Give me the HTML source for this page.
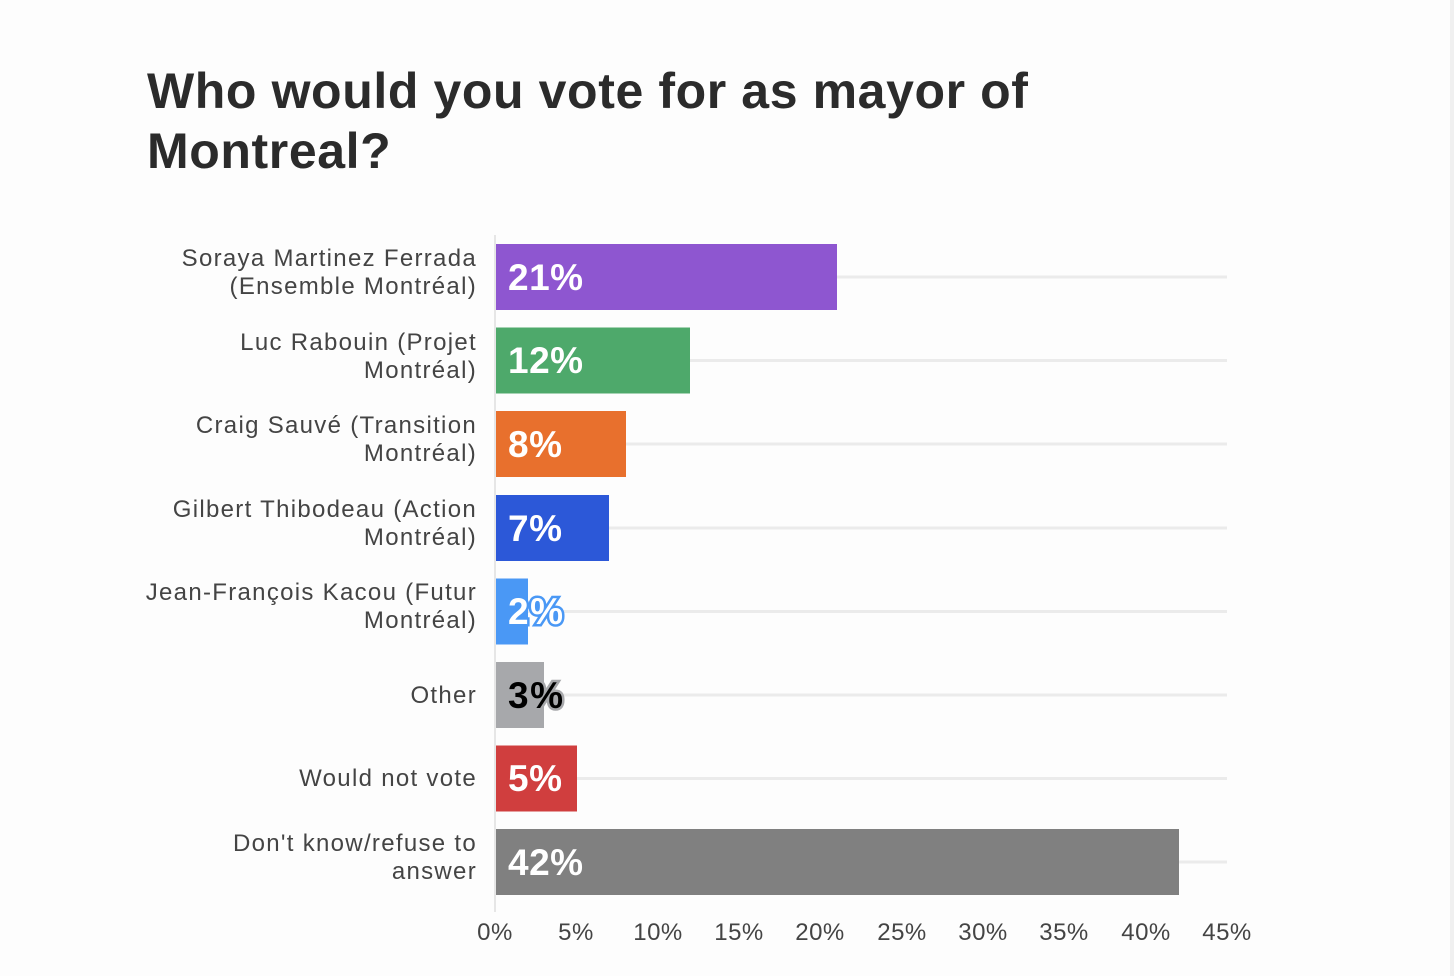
<!DOCTYPE html>
<html><head><style>
html,body{margin:0;padding:0;background:#fdfdfd;}
svg{display:block;font-family:"Liberation Sans",sans-serif;}
</style></head><body>
<svg width="1454" height="976" viewBox="0 0 1454 976">
<rect x="0" y="0" width="1454" height="976" fill="#fdfdfd"/>
<rect x="1450" y="0" width="4" height="976" fill="#f0f0f0"/>
<text x="147" y="108" font-size="50" font-weight="bold" fill="#2b2b2b" letter-spacing="0.6">Who would you vote for as mayor of</text>
<text x="147" y="168" font-size="50" font-weight="bold" fill="#2b2b2b" letter-spacing="0.6">Montreal?</text>
<g stroke="#ebebeb" stroke-width="3">
<line x1="495" x2="1227" y1="277" y2="277"/><line x1="495" x2="1227" y1="360.5" y2="360.5"/>
<line x1="495" x2="1227" y1="444" y2="444"/><line x1="495" x2="1227" y1="528" y2="528"/>
<line x1="495" x2="1227" y1="611.5" y2="611.5"/><line x1="495" x2="1227" y1="695" y2="695"/>
<line x1="495" x2="1227" y1="778.5" y2="778.5"/><line x1="495" x2="1227" y1="862" y2="862"/>
</g>
<line x1="495" x2="495" y1="235" y2="912" stroke="#e6e6e6" stroke-width="2"/>
<rect x="496" y="244" width="341" height="66" fill="#8e56d0"/>
<rect x="496" y="327.5" width="194" height="66" fill="#4ea96b"/>
<rect x="496" y="411" width="130" height="66" fill="#e8702d"/>
<rect x="496" y="495" width="113" height="66" fill="#2c58d8"/>
<rect x="496" y="578.5" width="32" height="66" fill="#4a98f5"/>
<rect x="496" y="662" width="48" height="66" fill="#a7a8ab"/>
<rect x="496" y="745.5" width="81" height="66" fill="#d03e3e"/>
<rect x="496" y="829" width="683" height="66" fill="#808080"/>
<g font-size="37" font-weight="bold" fill="#fff" letter-spacing="0.5">
<text x="508" y="290">21%</text><text x="508" y="373">12%</text>
<text x="508" y="457">8%</text><text x="508" y="541">7%</text>
<text x="508" y="624" stroke="#4a98f5" stroke-width="5" paint-order="stroke" letter-spacing="1.5">2%</text>
<text x="508" y="708" fill="#000" stroke="#a7a8ab" stroke-width="5" paint-order="stroke" letter-spacing="1.5">3%</text>
<text x="508" y="791">5%</text><text x="508" y="875">42%</text>
</g>
<g font-size="24" fill="#444" text-anchor="end" letter-spacing="1.3">
<text x="477" y="266">Soraya Martinez Ferrada</text><text x="477" y="294">(Ensemble Montréal)</text>
<text x="477" y="350">Luc Rabouin (Projet</text><text x="477" y="378">Montréal)</text>
<text x="477" y="433">Craig Sauvé (Transition</text><text x="477" y="461">Montréal)</text>
<text x="477" y="517">Gilbert Thibodeau (Action</text><text x="477" y="545">Montréal)</text>
<text x="477" y="600">Jean-François Kacou (Futur</text><text x="477" y="628">Montréal)</text>
<text x="477" y="703">Other</text>
<text x="477" y="786">Would not vote</text>
<text x="477" y="851">Don't know/refuse to</text><text x="477" y="879">answer</text>
</g>
<g font-size="24" fill="#444" text-anchor="middle" letter-spacing="0.5">
<text x="495" y="940">0%</text><text x="576" y="940">5%</text><text x="658" y="940">10%</text>
<text x="739" y="940">15%</text><text x="820" y="940">20%</text><text x="902" y="940">25%</text>
<text x="983" y="940">30%</text><text x="1064" y="940">35%</text><text x="1146" y="940">40%</text>
<text x="1227" y="940">45%</text>
</g>
</svg>
</body></html>
